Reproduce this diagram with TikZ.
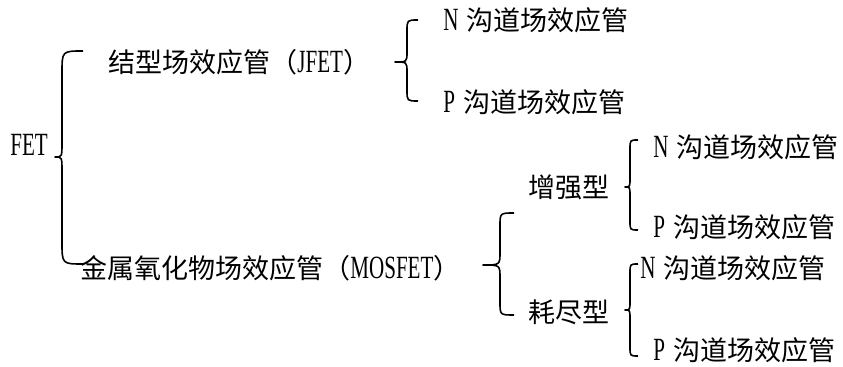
\documentclass[tikz,border=0pt]{standalone}
\usepackage{fontspec}
\setmainfont{Liberation Serif}[Scale=1.2,FakeStretch=0.65]
\newfontfamily\cjk{Noto Sans CJK SC}
\newcommand{\zh}[1]{{\cjk #1}}

\begin{document}
\begin{tikzpicture}[
  x=0.5pt, y=-0.5pt,
  every node/.style={anchor=west,inner sep=0pt,font=\fontsize{13.5}{16}\selectfont},
  bracket/.style={line width=0.8pt,line join=round},
  ]
  \useasboundingbox (0,0) rectangle (843,367);
  % names
  \node (fet)  at (10,145)  {FET};
  \node (jfet) at (108,62)  {\zh{结型场效应管（}JFET\zh{）}};
  \node (mos)  at (80,268)  {\zh{金属氧化物场效应管（}MOSFET\zh{）}};
  \node (jn)   at (443,20)  {N\hspace{4pt}\zh{沟道场效应管}};
  \node (jp)   at (443,102) {P\hspace{4pt}\zh{沟道场效应管}};
  \node (enh)  at (528,187) {\zh{增强型}};
  \node (dep)  at (528,312) {\zh{耗尽型}};
  \node (en)   at (653,147) {N\hspace{4pt}\zh{沟道场效应管}};
  \node (ep)   at (653,227) {P\hspace{4pt}\zh{沟道场效应管}};
  \node (dn)   at (640,268) {N\hspace{4pt}\zh{沟道场效应管}};
  \node (dp)   at (653,350) {P\hspace{4pt}\zh{沟道场效应管}};
  % brace ends and tips
  \coordinate (fetT) at (83,51);   \coordinate (fetM) at (55,157);  \coordinate (fetB) at (83,264);
  \coordinate (jfT)  at (418,20);  \coordinate (jfM)  at (395,62);  \coordinate (jfB)  at (418,101);
  \coordinate (moT)  at (514,213); \coordinate (moM)  at (483,265); \coordinate (moB)  at (514,315);
  \coordinate (enT)  at (638,140); \coordinate (enM)  at (625,187); \coordinate (enB)  at (638,230);
  \coordinate (dpT)  at (638,264); \coordinate (dpM)  at (625,310); \coordinate (dpB)  at (638,356);
  % braces
  \draw[bracket] (fetT) .. controls (62,51) .. (62,73) -- (62,143) .. controls (62,157) .. (fetM)
    .. controls (62,157) .. (62,171) -- (62,242) .. controls (62,264) .. (fetB);
  \draw[bracket] (jfT) .. controls (407,20) .. (407,31) -- (407,52) .. controls (407,62) .. (jfM)
    .. controls (407,62) .. (407,72) -- (407,90) .. controls (407,101) .. (jfB);
  \draw[bracket] (moT) .. controls (500,213) .. (500,226) -- (500,252) .. controls (500,265) .. (moM)
    .. controls (500,265) .. (500,278) -- (500,302) .. controls (500,315) .. (moB);
  \draw[bracket] (enT) .. controls (630,140) .. (630,149) -- (630,178) .. controls (630,187) .. (enM)
    .. controls (630,187) .. (630,196) -- (630,221) .. controls (630,230) .. (enB);
  \draw[bracket] (dpT) .. controls (630,264) .. (630,273) -- (630,301) .. controls (630,310) .. (dpM)
    .. controls (630,310) .. (630,319) -- (630,347) .. controls (630,356) .. (dpB);
\end{tikzpicture}
\end{document}
